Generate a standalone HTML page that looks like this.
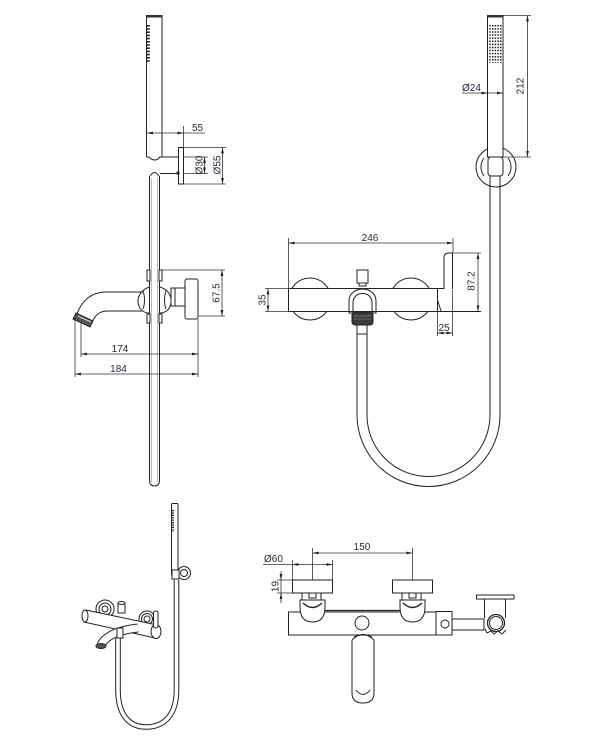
<!DOCTYPE html>
<html><head><meta charset="utf-8"><style>
html,body{margin:0;padding:0;background:#fff;}
svg{display:block;}
text{font-family:"Liberation Sans",Arial,sans-serif;font-size:10px;fill:#1e2536;}
</style></head><body>
<svg width="602" height="745" viewBox="0 0 602 745" xmlns="http://www.w3.org/2000/svg">
<defs>
<marker id="a" viewBox="0 0 6 4" refX="6" refY="2" markerWidth="6" markerHeight="4" orient="auto-start-reverse" markerUnits="userSpaceOnUse"><path d="M0,0.6 L6,2 L0,3.4 z" fill="#222"/></marker>
</defs>
<rect width="602" height="745" fill="#fff"/>

<!-- ============ TOP LEFT VIEW ============ -->
<g stroke="#222" stroke-width="1" fill="none">
  <!-- hand shower -->
  <path d="M146.5,157 L146.5,15.5 L162,15.5 L162,157"/>
  <rect x="146.5" y="15" width="15.5" height="2.5" fill="#333" stroke="none"/>
  <line x1="148.3" y1="25" x2="148.3" y2="63" stroke-width="3" stroke-dasharray="1.6 1.6"/>
  <path d="M146.5,157 L149,157 Q155,163 160,157 L162,157"/>
  <!-- holder lines -->
  <line x1="162" y1="157" x2="178.5" y2="157"/>
  <line x1="160" y1="173.5" x2="178.5" y2="173.5"/>
  <path d="M149.5,177 Q154.5,168 159.5,177"/>
  <rect x="178.5" y="147.5" width="5" height="36.5" fill="#fff"/>
  <rect x="176.5" y="171.5" width="3" height="3" fill="#222" stroke="none"/>
  <!-- vertical tube -->
  <path d="M149.5,176 L149.5,480 Q149.5,486 154.5,486 Q159.5,486 159.5,480 L159.5,176" fill="#fff"/>
  <line x1="151.3" y1="178" x2="151.3" y2="482" stroke="#888" stroke-width="0.6"/>
  <line x1="157.7" y1="178" x2="157.7" y2="482" stroke="#888" stroke-width="0.6"/>
  <!-- brackets -->
  <rect x="147" y="270" width="3" height="11" fill="#fff"/>
  <rect x="159" y="270" width="3" height="11" fill="#fff"/>
  <rect x="147" y="314" width="3" height="9" fill="#fff"/>
  <rect x="159" y="314" width="3" height="9" fill="#fff"/>
  <!-- ball joint -->
  <path d="M149.5,287 C140,290 136,299 139,306 C141,311 145,313 149.5,313"/>
  <path d="M143,291 C145,296 145,304 143,309"/>
  <path d="M159.5,287 C168,289 172,296 171,303 C170,310 165,313 159.5,313"/>
  <path d="M166,291 C164,296 164,304 166,309"/>
  <!-- spout -->
  <path d="M77,314 C82,300 92,292 106,292 L143,292" />
  <path d="M92,322 C96,314 100,311 108,311 L142,311" />
  <polygon points="76,313 93,321 90,327 73,319" fill="#555" stroke="#222"/>
  <line x1="78" y1="316" x2="91" y2="322" stroke="#fff" stroke-width="0.8"/>
  <!-- stem and handle -->
  <rect x="171" y="288" width="14" height="18" fill="#fff"/>
  <line x1="175" y1="288" x2="175" y2="306"/>
  <rect x="185" y="279" width="13" height="40" rx="2" fill="#fff"/>
</g>
<!-- top-left dims -->
<g stroke="#333" stroke-width="0.8" fill="none">
  <line x1="183.5" y1="126" x2="183.5" y2="147"/>
  <line x1="147" y1="133" x2="205" y2="133"/>
  <line x1="184" y1="147.5" x2="226" y2="147.5"/>
  <line x1="184" y1="184" x2="226" y2="184"/>
  <line x1="184" y1="157" x2="208" y2="157"/>
  <line x1="184" y1="173.5" x2="208" y2="173.5"/>
  <line x1="204.5" y1="157" x2="204.5" y2="173.5" marker-start="url(#a)" marker-end="url(#a)"/>
  <line x1="222.5" y1="147.5" x2="222.5" y2="184" marker-start="url(#a)" marker-end="url(#a)"/>
  <line x1="162" y1="270" x2="225" y2="270"/>
  <line x1="198" y1="316" x2="225" y2="316"/>
  <line x1="222" y1="270" x2="222" y2="316" marker-start="url(#a)" marker-end="url(#a)"/>
  <line x1="81" y1="322" x2="81" y2="357"/>
  <line x1="75" y1="318" x2="75" y2="377"/>
  <line x1="198" y1="319" x2="198" y2="377"/>
  <line x1="81" y1="354" x2="198" y2="354" marker-start="url(#a)" marker-end="url(#a)"/>
  <line x1="75" y1="374" x2="198" y2="374" marker-start="url(#a)" marker-end="url(#a)"/>
</g>
<path d="M147,133 L153,131.6 L153,134.4 z M183.5,133 L177.5,131.6 L177.5,134.4 z" fill="#222"/>
<text x="192" y="131">55</text>
<text transform="translate(199,165) rotate(-90)" text-anchor="middle" dy="0.35em">Ø30</text>
<text transform="translate(217,165) rotate(-90)" text-anchor="middle" dy="0.35em">Ø55</text>
<text transform="translate(216,293) rotate(-90)" text-anchor="middle" dy="0.35em">67.5</text>
<text x="120" y="352" text-anchor="middle">174</text>
<text x="118.5" y="372" text-anchor="middle">184</text>

<!-- ============ TOP RIGHT VIEW ============ -->
<g stroke="#222" stroke-width="1" fill="none">
  <!-- holder circle -->
  <circle cx="496" cy="167" r="20"/>
  <path d="M484,158 A15,15 0 0 0 484,176"/>
  <path d="M508,158 A15,15 0 0 1 508,176"/>
  <!-- hand shower -->
  <rect x="487.5" y="15.5" width="15.5" height="141.5" fill="#fff"/>
  <rect x="487.5" y="15" width="15.5" height="2.5" fill="#333" stroke="none"/>
  <g stroke-width="1.5" stroke-dasharray="1.5 1.6">
    <line x1="490" y1="25" x2="490" y2="63"/>
    <line x1="492.7" y1="25" x2="492.7" y2="63"/>
    <line x1="495.4" y1="25" x2="495.4" y2="63"/>
    <line x1="498.1" y1="25" x2="498.1" y2="63"/>
    <line x1="500.8" y1="25" x2="500.8" y2="63"/>
  </g>
  <rect x="488" y="157" width="15" height="19" rx="3" fill="#fff"/>
  <!-- hose U -->
  <path d="M500,176 L500,415 A71.5,71.5 0 0 1 357,415 L357,325"/>
  <path d="M490,176 L490,415 A61.5,61.5 0 0 1 367,415 L367,325"/>
  <rect x="357" y="325" width="10" height="9" fill="#fff"/>
  <!-- handle discs -->
  <circle cx="310" cy="299" r="21"/>
  <circle cx="411" cy="299" r="21"/>
  <!-- body bar -->
  <rect x="288.5" y="288.5" width="149" height="23" fill="#fff" stroke="none"/>
  <line x1="288" y1="288.5" x2="444" y2="288.5"/>
  <line x1="288.5" y1="288" x2="288.5" y2="312"/>
  <line x1="437.5" y1="288" x2="437.5" y2="312"/>
  <path d="M437.5,300 L441,311"/>
  <path d="M444,289 L444,258 Q444,253 449,253 L452.5,253 L452.5,289"/>
  <!-- connector -->
  <rect x="357" y="270" width="11" height="13" fill="#fff"/>
  <rect x="359" y="283" width="7" height="3" fill="#fff"/>
  <path d="M349,313 L349,301 C349,294 355,289 362.5,289 C370,289 376,294 376,301 L376,313 Z" fill="#fff"/>
  <path d="M353,313 L353,303 C353,297 357,293.5 362.5,293.5 C368,293.5 372,297 372,303 L372,313"/>
  <rect x="352" y="312" width="21" height="13" rx="3" fill="#3a3a3a"/>
  <line x1="354" y1="316" x2="371" y2="316" stroke="#aaa" stroke-width="0.6"/>
  <line x1="354" y1="319" x2="371" y2="319" stroke="#999" stroke-width="0.6"/>
</g>
<g stroke="#222" stroke-width="1" fill="none">
  <line x1="288" y1="311.5" x2="481" y2="311.5"/>
</g>
<!-- top right dims -->
<g stroke="#333" stroke-width="0.8" fill="none">
  <line x1="503" y1="15.5" x2="531" y2="15.5"/>
  <line x1="503" y1="157" x2="531" y2="157"/>
  <line x1="527.5" y1="15.5" x2="527.5" y2="157" marker-start="url(#a)" marker-end="url(#a)"/>
  <line x1="462" y1="93" x2="503" y2="93"/>
  <line x1="288.5" y1="238" x2="288.5" y2="288"/>
  <line x1="453" y1="238" x2="453" y2="253"/>
  <line x1="288.5" y1="243" x2="453" y2="243" marker-start="url(#a)" marker-end="url(#a)"/>
  <line x1="265" y1="288.5" x2="288" y2="288.5"/>
  <line x1="265" y1="311.5" x2="288" y2="311.5"/>
  <line x1="268" y1="288.5" x2="268" y2="311.5" marker-start="url(#a)" marker-end="url(#a)"/>
  <line x1="452" y1="253" x2="481" y2="253"/>
  <line x1="478" y1="253" x2="478" y2="311.5" marker-start="url(#a)" marker-end="url(#a)"/>
  <line x1="437.5" y1="312" x2="437.5" y2="336"/>
  <line x1="452.5" y1="290" x2="452.5" y2="336"/>
  <line x1="437.5" y1="333" x2="452.5" y2="333" marker-start="url(#a)" marker-end="url(#a)"/>
</g>
<path d="M487.5,93 L481.5,91.6 L481.5,94.4 z M503,93 L497,91.6 L497,94.4 z" fill="#222"/>
<text x="370" y="241" text-anchor="middle">246</text>
<text x="462" y="91">Ø24</text>
<text transform="translate(520,86) rotate(-90)" text-anchor="middle" dy="0.35em">212</text>
<text transform="translate(262,300) rotate(-90)" text-anchor="middle" dy="0.35em">35</text>
<text transform="translate(471,281) rotate(-90)" text-anchor="middle" dy="0.35em">87.2</text>
<text x="444" y="331" text-anchor="middle">25</text>

<!-- ============ BOTTOM LEFT ISO ============ -->
<g fill="none">
  <!-- hose -->
  <path d="M176.5,580 L176.5,690 C176.5,714 165,727 146,727 C127,727 118,712 118,690 L118,638" stroke="#222" stroke-width="5.6"/>
  <path d="M176.5,580 L176.5,690 C176.5,714 165,727 146,727 C127,727 118,712 118,690 L118,638" stroke="#fff" stroke-width="3.6"/>
  <!-- hand shower -->
  <rect x="171.5" y="503.5" width="6.5" height="72" rx="1" fill="#fff" stroke="#222"/>
  <line x1="173" y1="510" x2="173" y2="532" stroke="#222" stroke-width="2" stroke-dasharray="1.2 1.2"/>
  <circle cx="184" cy="573" r="6.5" fill="#fff" stroke="#222"/>
  <circle cx="184" cy="573" r="3.5" stroke="#222"/>
  <rect x="172" y="570" width="7" height="9" fill="#fff" stroke="#222"/>
  <!-- handles -->
  <circle cx="105" cy="609" r="9" fill="#fff" stroke="#222"/>
  <circle cx="105" cy="609" r="6" stroke="#222"/>
  <circle cx="105" cy="609" r="3" stroke="#222"/>
  <circle cx="147" cy="619" r="8" fill="#fff" stroke="#222"/>
  <circle cx="147" cy="619" r="5.5" stroke="#222"/>
  <circle cx="147" cy="619" r="3" stroke="#222"/>
  <!-- diverter -->
  <rect x="118" y="603" width="7" height="10" fill="#fff" stroke="#222"/>
  <ellipse cx="121.5" cy="603" rx="3.5" ry="1.5" fill="#fff" stroke="#222"/>
  <!-- bar -->
  <path d="M86,610 L157,625 L155,638 L84,622 Z" fill="#fff" stroke="#222"/>
  <ellipse cx="85" cy="616" rx="3" ry="6" fill="#fff" stroke="#222"/>
  <ellipse cx="156" cy="631.5" rx="5" ry="7" fill="#fff" stroke="#222"/>
  <!-- lever -->
  <rect x="153.5" y="611" width="4.5" height="17" rx="2" fill="#fff" stroke="#222"/>
  <!-- spout -->
  <path d="M138,628 C120,630 106,635 101,645" stroke="#222" stroke-width="9"/>
  <path d="M138,628 C120,630 106,635 101,645" stroke="#fff" stroke-width="7"/>
  <ellipse cx="101" cy="646" rx="5" ry="2.5" fill="#555" stroke="#222"/>
  <rect x="117" y="628" width="6" height="10" fill="#fff" stroke="#222"/>
</g>

<!-- ============ BOTTOM RIGHT VIEW ============ -->
<g stroke="#222" stroke-width="1" fill="none">
  <!-- body -->
  <rect x="288.5" y="612" width="147.5" height="23" fill="#fff"/>
  <line x1="310" y1="610.5" x2="412" y2="610.5" stroke-width="1.2"/>
  <circle cx="362" cy="623" r="7"/>
  <rect x="436" y="611.5" width="16" height="23.5" fill="#fff"/>
  <circle cx="445" cy="624" r="4"/>
  <rect x="452" y="619" width="32" height="11" fill="#fff"/>
  <!-- holder -->
  <rect x="476.5" y="595" width="37.5" height="4" fill="#fff"/>
  <line x1="484.5" y1="599" x2="484.5" y2="618"/>
  <line x1="505.5" y1="599" x2="505.5" y2="618"/>
  <circle cx="496" cy="623" r="8.5" fill="#fff" stroke-width="1.3"/>
  <circle cx="496" cy="623" r="6.5"/>
  <path d="M485,629 L487,633 L491,631 L494,634 L498,631 L502,634 L506,630" stroke-width="1"/>
  <!-- left valve -->
  <path d="M300,600 L300,607 Q300,622 312.5,622 Q325,622 325,607 L325,600 Z" fill="#fff"/>
  <path d="M303,603 Q312.5,612 322,603" stroke-width="1.4"/>
  <rect x="302" y="593" width="19" height="7" fill="#fff"/>
  <rect x="309" y="593" width="7" height="5"/>
  <rect x="292.5" y="580" width="40" height="13" fill="#fff"/>
  <!-- right valve -->
  <path d="M400,600 L400,607 Q400,622 412.5,622 Q425,622 425,607 L425,600 Z" fill="#fff"/>
  <path d="M403,603 Q412.5,612 422,603" stroke-width="1.4"/>
  <rect x="402" y="593" width="19" height="7" fill="#fff"/>
  <rect x="409" y="593" width="7" height="5"/>
  <rect x="392.5" y="580" width="40" height="13" fill="#fff"/>
  <!-- spout -->
  <path d="M352,640 L352,693 Q352,703 363,703 Q374,703 374,693 L374,640" fill="#fff"/>
  <path d="M352,640 Q363,629 374,640"/>
  <path d="M354,637 Q363,633 372,637"/>
  <path d="M356,690 Q363,699 370,690"/>
</g>
<g stroke="#333" stroke-width="0.8" fill="none">
  <line x1="312.5" y1="548" x2="312.5" y2="580"/>
  <line x1="412.5" y1="548" x2="412.5" y2="580"/>
  <line x1="312.5" y1="553" x2="412.5" y2="553" marker-start="url(#a)" marker-end="url(#a)"/>
  <line x1="292.5" y1="560" x2="292.5" y2="580"/>
  <line x1="332.5" y1="560" x2="332.5" y2="580"/>
  <line x1="263" y1="564.5" x2="332.5" y2="564.5"/>
  <line x1="277" y1="580" x2="292" y2="580"/>
  <line x1="277" y1="593" x2="292" y2="593"/>
  <line x1="281" y1="571" x2="281" y2="603"/>
</g>
<path d="M292.5,564.5 L298.5,563.1 L298.5,565.9 z M332.5,564.5 L326.5,563.1 L326.5,565.9 z M281,580 L279.6,574 L282.4,574 z M281,593 L279.6,599 L282.4,599 z" fill="#222"/>
<text x="362" y="550" text-anchor="middle">150</text>
<text x="264" y="562">Ø60</text>
<text transform="translate(275,586.5) rotate(-90)" text-anchor="middle" dy="0.35em">19</text>
</svg>
</body></html>
